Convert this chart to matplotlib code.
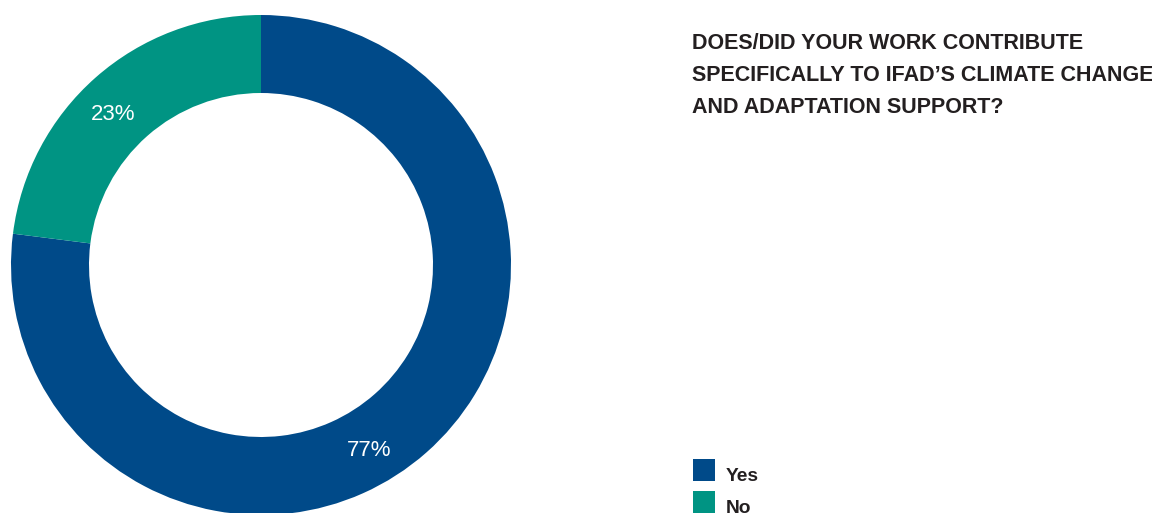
import matplotlib.pyplot as plt
from matplotlib.patches import Rectangle

plt.rcParams['font.family'] = ['Liberation Sans', 'DejaVu Sans']

answers = ['Yes', 'No']
shares = [77, 23]
colors = ['#004a89', '#009483']
text_color = '#231f20'

fig = plt.figure(figsize=(11.52, 5.13), dpi=100)
ax = fig.add_axes([0, 0, 1, 1])

# donut, drawn in pixel units (y measured upward)
cx, cy, r = 261, 513 - 265, 250
wedges, _ = ax.pie(shares, colors=colors, startangle=90, counterclock=False,
                   center=(cx, cy), radius=r,
                   wedgeprops=dict(width=78, linewidth=0))
ax.set_xlim(0, 1152)
ax.set_ylim(0, 513)
ax.set_aspect('equal')
ax.axis('off')

label_pos = [(369, 513 - 450), (113, 513 - 115)]
for (x, y), v in zip(label_pos, shares):
    ax.text(x, y, f'{v}%', color='white', fontsize=16,
            ha='center', va='center')

title_lines = ['DOES/DID YOUR WORK CONTRIBUTE',
               'SPECIFICALLY TO IFAD\u2019S CLIMATE CHANGE',
               'AND ADAPTATION SUPPORT?']
for i, line in enumerate(title_lines):
    ax.text(692, 513 - (49 + i * 32), line, color=text_color, fontsize=15.5,
            fontweight='bold', ha='left', va='baseline')

# legend squares with labels
for i, (name, col) in enumerate(zip(answers, colors)):
    top = 459 + i * 32
    ax.add_patch(Rectangle((693, 513 - top - 22), 22, 22, color=col, lw=0))
    ax.text(726, 513 - (top + 22), name, color=text_color, fontsize=13.8,
            fontweight='bold', ha='left', va='baseline')

fig.savefig('out.png', dpi=100)
